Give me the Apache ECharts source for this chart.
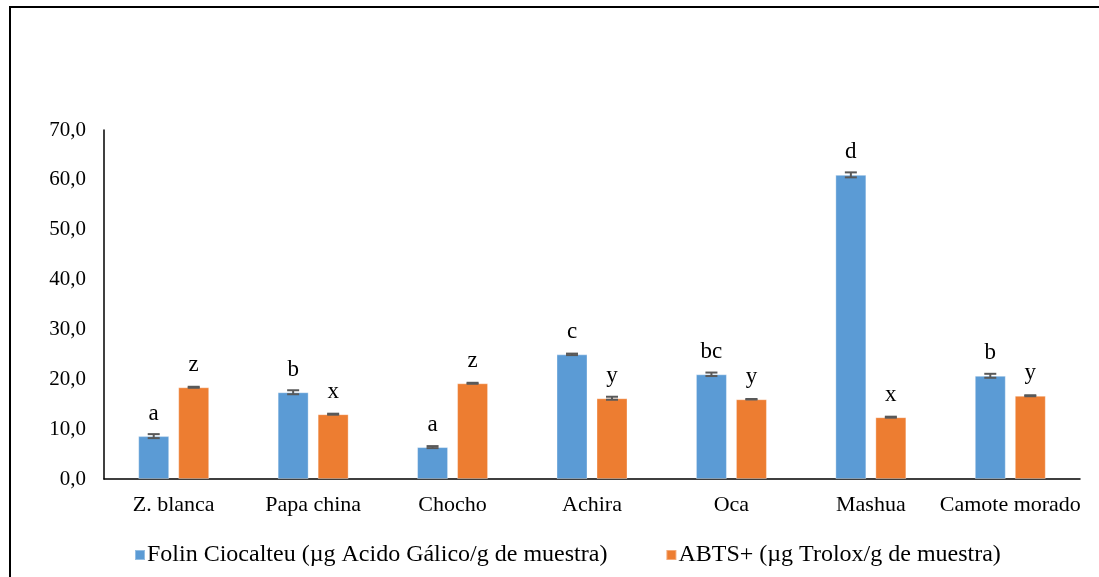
<!DOCTYPE html>
<html>
<head>
<meta charset="utf-8">
<script src="https://cdn.jsdelivr.net/npm/echarts@6/dist/echarts.min.js"></script>
<style>
  html, body { margin: 0; padding: 0; background: #fff; }
  #chart { width: 1099px; height: 577px; }
</style>
</head>
<body>
<div id="chart"></div>
<script>
// Samples
const categories = ['Z. blanca', 'Papa china', 'Chocho', 'Achira', 'Oca', 'Mashua', 'Camote morado'];

// Folin Ciocalteu (µg Acido Gálico/g de muestra)
const folinValues = [8.6, 17.4, 6.4, 25.0, 21.0, 61.0, 20.7];
const folinErrors = [0.4, 0.4, 0.2, 0.15, 0.35, 0.5, 0.4];
const folinLetters = ['a', 'b', 'a', 'c', 'bc', 'd', 'b'];

// ABTS+ (µg Trolox/g de muestra)
const abtsValues = [18.4, 13.0, 19.2, 16.2, 16.0, 12.4, 16.7];
const abtsErrors = [0.1, 0.1, 0.1, 0.3, 0.05, 0.1, 0.1];
const abtsLetters = ['z', 'x', 'z', 'y', 'y', 'x', 'y'];

const yTickLabels = ['0,0', '10,0', '20,0', '30,0', '40,0', '50,0', '60,0', '70,0'];

const seriesNames = [
  'Folin Ciocalteu (µg Acido Gálico/g de muestra)',
  'ABTS+ (µg Trolox/g de muestra)'
];
const colors = ['#5B9BD5', '#ED7D31'];
const serif = '"Liberation Serif", "Times New Roman", serif';

const BAR_WIDTH = 31;
const BAR_GAP = 9;

// Error bar drawn at the centre of the bar belonging to the given series index
function errorBarRenderer(seriesIdx) {
  return function (params, api) {
    const ci = api.value(0);
    const v = api.value(1);
    const e = api.value(2);
    const base = api.coord([ci, v]);
    const shift = (BAR_WIDTH + BAR_GAP) / 2 * (seriesIdx === 0 ? -1 : 1);
    const x = base[0] + shift;
    const hi = api.coord([ci, v + e])[1];
    const lo = api.coord([ci, v - e])[1];
    const cap = 6;
    const style = { stroke: '#595959', lineWidth: 2 };
    return {
      type: 'group',
      children: [
        { type: 'line', shape: { x1: x, y1: hi, x2: x, y2: lo }, style },
        { type: 'line', shape: { x1: x - cap, y1: hi, x2: x + cap, y2: hi }, style },
        { type: 'line', shape: { x1: x - cap, y1: lo, x2: x + cap, y2: lo }, style }
      ]
    };
  };
}

function barSeries(idx, values, letters) {
  return {
    name: seriesNames[idx],
    type: 'bar',
    data: values,
    barWidth: BAR_WIDTH,
    barGap: (BAR_GAP / BAR_WIDTH * 100) + '%',
    itemStyle: { color: colors[idx], borderColor: 'rgba(255,255,255,0.35)', borderWidth: 1 },
    label: {
      show: true,
      position: 'top',
      distance: 11,
      formatter: p => letters[p.dataIndex],
      fontFamily: serif,
      fontSize: 23,
      color: '#000'
    },
    z: 2
  };
}

function errorSeries(idx, values, errors) {
  return {
    name: seriesNames[idx],
    type: 'custom',
    renderItem: errorBarRenderer(idx),
    data: values.map((v, i) => [i, v, errors[i]]),
    encode: { x: 0, y: 1 },
    z: 3,
    silent: true,
    tooltip: { show: false }
  };
}

const chart = echarts.init(document.getElementById('chart'), null, { renderer: 'canvas' });

chart.setOption({
  animation: false,
  backgroundColor: '#fff',
  graphic: [{
    type: 'rect',
    shape: { x: 10, y: 7, width: 1300, height: 800 },
    style: { fill: 'none', stroke: '#000', lineWidth: 2 },
    silent: true,
    z: -1
  }],
  grid: { left: 104, right: 19, top: 130, bottom: 98, containLabel: false },
  legend: {
    data: seriesNames,
    left: 129,
    top: 538,
    itemWidth: 10,
    itemHeight: 10,
    itemGap: 58,
    icon: 'rect',
    textStyle: { fontFamily: serif, fontSize: 24, color: '#000', padding: [0, 0, 0, -3] }
  },
  xAxis: {
    type: 'category',
    data: categories,
    axisLine: { lineStyle: { color: '#000', width: 1.5 } },
    axisTick: { show: false },
    axisLabel: { fontFamily: serif, fontSize: 22, color: '#000', margin: 15, interval: 0 }
  },
  yAxis: {
    type: 'value',
    min: 0,
    max: 70,
    interval: 10,
    axisLine: { show: true, lineStyle: { color: '#000', width: 1.5 } },
    axisTick: { show: false },
    splitLine: { show: false },
    axisLabel: {
      fontFamily: serif,
      fontSize: 21,
      color: '#000',
      margin: 18,
      formatter: v => yTickLabels[Math.round(v / 10)]
    }
  },
  series: [
    barSeries(0, folinValues, folinLetters),
    barSeries(1, abtsValues, abtsLetters),
    errorSeries(0, folinValues, folinErrors),
    errorSeries(1, abtsValues, abtsErrors)
  ]
});
</script>
</body>
</html>
